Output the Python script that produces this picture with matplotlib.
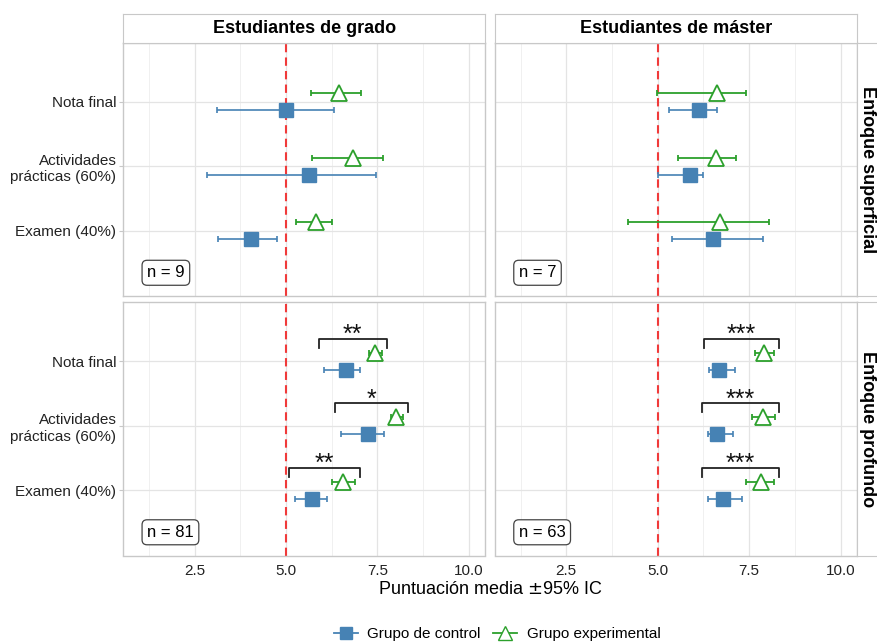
import matplotlib.pyplot as plt
from matplotlib.lines import Line2D

plt.rcParams['font.family'] = ['Liberation Sans', 'DejaVu Sans']

# data: rows = (Nota final, Actividades prácticas, Examen)
categories = ['Nota final', 'Actividades\nprácticas (60%)', 'Examen (40%)']
columns = ['Estudiantes de grado', 'Estudiantes de máster']
rows = ['Enfoque superficial', 'Enfoque profundo']
n_labels = [['n = 9', 'n = 7'], ['n = 81', 'n = 63']]

# [row][col] -> list per category
ctrl_mean = [[[4.99, 5.62, 4.05], [6.13, 5.88, 6.50]],
             [[6.63, 7.25, 5.70], [6.68, 6.62, 6.79]]]
ctrl_lo = [[[3.10, 2.85, 3.14], [5.30, 5.01, 5.38]],
           [[6.03, 6.49, 5.24], [6.40, 6.37, 6.38]]]
ctrl_hi = [[[6.30, 7.47, 4.74], [6.63, 6.25, 7.88]],
           [[7.02, 7.67, 6.13], [7.12, 7.07, 7.31]]]
exp_mean = [[[6.44, 6.84, 5.83], [6.61, 6.59, 6.71]],
            [[7.44, 8.02, 6.56], [7.91, 7.87, 7.83]]]
exp_lo = [[[5.68, 5.71, 5.28], [4.99, 5.56, 4.20]],
          [[7.26, 7.87, 6.27], [7.65, 7.59, 7.42]]]
exp_hi = [[[7.05, 7.66, 6.25], [7.42, 7.15, 8.03]],
          [[7.63, 8.19, 6.88], [8.18, 8.21, 8.19]]]

# significance brackets (only for deep approach row)
sig_lo = [[5.89, 6.35, 5.09], [6.26, 6.21, 6.21]]
sig_hi = [[7.75, 8.33, 7.02], [8.32, 8.32, 8.32]]
sig_stars = [['**', '*', '**'], ['***', '***', '***']]

ctrl_color = '#4682B4'
exp_color = '#2CA02C'
ypos = [3, 2, 1]
dodge = 0.13

fig = plt.figure(figsize=(8.78, 6.44), dpi=100)
W, H = 878, 644
panel_x = [123.3, 495.0]
panel_y = [42.5, 302.0]
pw, ph = 362.0, 253.5

for r in range(2):
    for c in range(2):
        ax = fig.add_axes([panel_x[c] / W, 1 - (panel_y[r] + ph) / H, pw / W, ph / H])
        ax.set_xlim(0.55, 10.45)
        ax.set_ylim(-0.01, 3.92)
        ax.set_xticks([2.5, 5.0, 7.5, 10.0])
        ax.set_xticks([1.25, 3.75, 6.25, 8.75], minor=True)
        ax.set_yticks(ypos)
        ax.grid(which='major', color='#e4e4e4', lw=0.9)
        ax.grid(which='minor', axis='x', color='#f0f0f0', lw=0.7)
        ax.set_axisbelow(True)
        for s in ax.spines.values():
            s.set_color('#c8c8c8')
            s.set_linewidth(1.0)
        ax.tick_params(which='both', axis='x', length=0, labelsize=11,
                       labelcolor='#222222', pad=6)
        ax.tick_params(axis='y', length=3, color='#c8c8c8', labelsize=11,
                       labelcolor='#222222', pad=2)
        if c == 0:
            ax.set_yticklabels(categories)
        else:
            ax.set_yticklabels([])
            ax.tick_params(axis='y', length=0)
        if r == 0:
            ax.set_xticklabels([])
        else:
            ax.set_xticklabels(['2.5', '5.0', '7.5', '10.0'])

        ax.axvline(5.0, color='#f03a3a', ls=(0, (4, 2.5)), lw=1.5, zorder=2)

        for i, y in enumerate(ypos):
            m = ctrl_mean[r][c][i]
            ax.errorbar(m, y - dodge,
                        xerr=[[m - ctrl_lo[r][c][i]], [ctrl_hi[r][c][i] - m]],
                        fmt='s', color=ctrl_color, ms=10, mec=ctrl_color,
                        elinewidth=1.2, capsize=2, capthick=1.2, zorder=3)
            m = exp_mean[r][c][i]
            ax.errorbar(m, y + dodge,
                        xerr=[[m - exp_lo[r][c][i]], [exp_hi[r][c][i] - m]],
                        fmt='^', color=exp_color, ms=11, mfc='white', mec=exp_color,
                        mew=1.3, elinewidth=1.3, capsize=2, capthick=1.3, zorder=3)
            if r == 1:
                x0, x1 = sig_lo[c][i], sig_hi[c][i]
                yb = y + 0.35
                ax.plot([x0, x0, x1, x1], [yb - 0.14, yb, yb, yb - 0.14],
                        color='#222222', lw=1.3, zorder=4)
                ax.text((x0 + x1) / 2, yb - 0.05, sig_stars[c][i], ha='center',
                        va='baseline', fontsize=18, color='#111111')

        ax.text(1.2, 0.35, n_labels[r][c], ha='left', va='center', fontsize=12,
                bbox=dict(boxstyle='round,pad=0.3,rounding_size=0.3',
                          fc='white', ec='#444444', lw=0.9))

# column strips
for c in range(2):
    sax = fig.add_axes([panel_x[c] / W, 1 - 42.5 / H, pw / W, 28.5 / H])
    sax.set_xticks([])
    sax.set_yticks([])
    for s in sax.spines.values():
        s.set_color('#c8c8c8')
    sax.text(0.5, 0.5, columns[c], ha='center', va='center', fontsize=13,
             fontweight='bold', transform=sax.transAxes)

# row strips
for r in range(2):
    sax = fig.add_axes([857 / W, 1 - (panel_y[r] + ph) / H, 30 / W, ph / H])
    sax.set_xticks([])
    sax.set_yticks([])
    for s in sax.spines.values():
        s.set_color('#c8c8c8')
    fig.text(868 / W, 1 - (panel_y[r] + ph / 2) / H, rows[r], rotation=-90,
             ha='center', va='center', fontsize=13, fontweight='bold')

fig.text(490 / W, 1 - 589 / H, 'Puntuación media $\\pm$95% IC', ha='center',
         va='center', fontsize=13)

handles = [
    Line2D([], [], color=ctrl_color, marker='s', ms=9, lw=1.3, label='Grupo de control'),
    Line2D([], [], color=exp_color, marker='^', ms=10, mfc='white', lw=1.3,
           label='Grupo experimental'),
]
fig.legend(handles=handles, loc='center', bbox_to_anchor=(497 / W, 1 - 634 / H),
           ncol=2, frameon=False, fontsize=11, handlelength=1.6,
           columnspacing=0.8, handletextpad=0.6)

fig.savefig('out.png', dpi=100)
